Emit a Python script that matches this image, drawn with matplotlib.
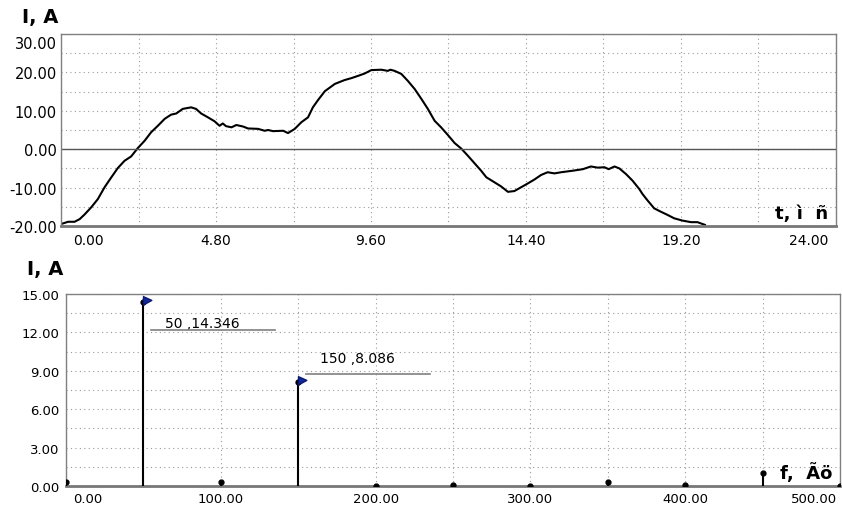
from matplotlib import pyplot as plt
from matplotlib.path import Path
from matplotlib.transforms import ScaledTranslation
import numpy as np

# current waveform, one period (t in ms, I in A)
t_ms = [0.0, 0.22, 0.42, 0.58, 0.73, 0.94, 1.14, 1.35, 1.56, 1.76,
        1.97, 2.17, 2.38, 2.59, 2.79, 3.0, 3.21, 3.41, 3.57, 3.77,
        4.03, 4.18, 4.34, 4.55, 4.75, 4.91, 5.01, 5.11, 5.28, 5.43,
        5.64, 5.79, 6.1, 6.31, 6.41, 6.57, 6.88, 7.03, 7.24, 7.44,
        7.65, 7.80, 7.96, 8.17, 8.48, 8.78, 8.99, 9.2, 9.40, 9.61,
        9.92, 10.12, 10.2, 10.33, 10.54, 10.74, 10.95, 11.16, 11.36, 11.57,
        11.77, 11.98, 12.19, 12.39, 12.60, 12.81, 13.01, 13.17, 13.42, 13.63,
        13.84, 14.04, 14.25, 14.46, 14.66, 14.87, 15.07, 15.28, 15.49, 15.85,
        16.16, 16.41, 16.62, 16.83, 16.96, 17.14, 17.29, 17.5, 17.70, 17.91,
        18.01, 18.17, 18.37, 18.58, 18.78, 18.99, 19.25, 19.51, 19.71, 19.94]
current = [-19.5, -18.9, -18.9, -18.2, -17.0, -15.1, -13.0, -9.9, -7.3, -4.9,
           -3.0, -1.9, 0.3, 2.2, 4.4, 6.1, 7.9, 9.0, 9.3, 10.5,
           10.9, 10.5, 9.3, 8.3, 7.3, 6.1, 6.7, 6.0, 5.7, 6.3,
           5.9, 5.4, 5.3, 4.8, 5.0, 4.7, 4.8, 4.2, 5.3, 7.0,
           8.3, 10.9, 12.8, 15.1, 17.0, 18.0, 18.5, 19.1, 19.7, 20.6,
           20.7, 20.4, 20.7, 20.4, 19.6, 17.8, 15.7, 13.1, 10.5, 7.4,
           5.7, 3.7, 1.6, 0.2, -1.7, -3.7, -5.6, -7.3, -8.6, -9.7,
           -11.1, -10.9, -9.9, -8.9, -7.9, -6.7, -6.0, -6.3, -6.0, -5.6,
           -5.2, -4.5, -4.8, -4.7, -5.2, -4.5, -5.0, -6.5, -8.2, -10.4,
           -11.7, -13.4, -15.4, -16.3, -17.1, -18.0, -18.6, -19.0, -19.0, -19.7]

# harmonic spectrum
freqs = [0, 50, 100, 150, 200, 250, 300, 350, 400, 450, 500]
amps = [0.33, 14.346, 0.35, 8.086, 0.03, 0.08, 0.03, 0.29, 0.05, 1.0, 0.03]
marked = [50, 150]

t_ticks = [0, 4.8, 9.6, 14.4, 19.2, 24.0]
f_ticks = [0, 100, 200, 300, 400, 500]

GRID = dict(color="#9a9a9a", linestyle=(0, (1, 3)), linewidth=0.8)
SPINE = "#808080"

plt.rcParams["font.family"] = "DejaVu Sans"

fig = plt.figure(figsize=(8.42, 5.06), dpi=100)
ax_t = fig.add_axes([61 / 842, 279 / 506, 775 / 842, 192 / 506])
ax_f = fig.add_axes([66 / 842, 19 / 506, 774 / 842, 192 / 506])


def style_axes(ax):
    for s in ax.spines.values():
        s.set_color(SPINE)
        s.set_linewidth(1.0)
    ax.spines["bottom"].set_linewidth(2.0)
    ax.spines["bottom"].set_color("#777777")
    ax.grid(True, which="both", **GRID)
    ax.set_axisbelow(True)
    ax.tick_params(which="both", length=0)


def shift_label(ax, label, dx_px, dy_px=0):
    label.set_transform(label.get_transform()
                        + ScaledTranslation(dx_px / 100, dy_px / 100, fig.dpi_scale_trans))


# --- time domain ---
ax_t.plot(t_ms, current, color="black", linewidth=1.5)
ax_t.axhline(0, color="#555555", linewidth=1.0)
ax_t.set_xlim(0, 24)
ax_t.set_ylim(-20, 30)
ax_t.set_xticks(t_ticks)
ax_t.set_xticklabels([f"{v:.2f}" for v in t_ticks])
ax_t.set_xticks(np.arange(2.4, 24, 4.8), minor=True)
ax_t.set_yticks(np.arange(-20, 31, 10))
ax_t.set_yticklabels([f"{v:.2f}" for v in np.arange(-20, 31, 10)])
ax_t.set_yticks(np.arange(-15, 30, 10), minor=True)
style_axes(ax_t)
ax_t.tick_params(axis="x", labelsize=10, pad=5)
ax_t.tick_params(axis="y", labelsize=10.5, pad=3)

xt = ax_t.get_xticklabels()
xt[0].set_ha("left")
shift_label(ax_t, xt[0], 12)
xt[-1].set_ha("right")
shift_label(ax_t, xt[-1], -8)
yt = ax_t.get_yticklabels()
yt[-1].set_va("top")
shift_label(ax_t, yt[-1], 0, -2)

ax_t.text(0.99, 0.02, "t, ì  ñ", transform=ax_t.transAxes, ha="right", va="bottom",
          fontsize=13, fontweight="bold")
fig.text(22 / 842, 1 - 18 / 506, "I, A", ha="left", va="center", fontsize=14, fontweight="bold")

# --- spectrum ---
ax_f.vlines(freqs, 0, amps, color="black", linewidth=1.5, zorder=3)
ax_f.plot(freqs, amps, "o", color="black", markersize=3.5, zorder=4)

flag = Path([(0, -0.3), (0, 0.7), (1.0, 0.25), (0, -0.3)],
            [Path.MOVETO, Path.LINETO, Path.LINETO, Path.CLOSEPOLY])
for f in marked:
    a = amps[freqs.index(f)]
    ax_f.plot([f], [a], marker=flag, markersize=12, color="#14289a",
              markeredgecolor="#0a1a70", linestyle="none", zorder=5)

# annotation boxes: (text dx, text dy, line dy) in data units relative to the peak
ann_offsets = {50: (14, -1.6, -2.16), 150: (14, 1.9, 0.66)}
for f in marked:
    a = amps[freqs.index(f)]
    tdx, tdy, ldy = ann_offsets[f]
    ax_f.plot([f + 5, f + 85], [a + ldy, a + ldy], color="#808080", linewidth=1.2, zorder=4)
    ax_f.text(f + tdx, a + tdy, f"{f} ,{a:.3f}", ha="left", va="center", fontsize=10)

ax_f.set_xlim(0, 500)
ax_f.set_ylim(0, 15)
ax_f.set_xticks(f_ticks)
ax_f.set_xticklabels([f"{v:.2f}" for v in f_ticks])
ax_f.set_xticks(np.arange(50, 500, 100), minor=True)
ax_f.set_yticks(np.arange(0, 16, 3))
ax_f.set_yticklabels([f"{v:.2f}" for v in np.arange(0, 16, 3)])
ax_f.set_yticks(np.arange(1.5, 15, 3), minor=True)
style_axes(ax_f)
ax_f.tick_params(axis="x", labelsize=9.5, pad=4)
ax_f.tick_params(axis="y", labelsize=9.5, pad=5)

xf = ax_f.get_xticklabels()
xf[0].set_ha("left")
shift_label(ax_f, xf[0], 7)
xf[-1].set_ha("right")
shift_label(ax_f, xf[-1], -3)

ax_f.text(0.99, 0.02, "f,  Ãö", transform=ax_f.transAxes, ha="right", va="bottom",
          fontsize=13, fontweight="bold")
fig.text(27 / 842, 1 - 269 / 506, "I, A", ha="left", va="center", fontsize=14, fontweight="bold")

fig.savefig("out.png", dpi=100)
